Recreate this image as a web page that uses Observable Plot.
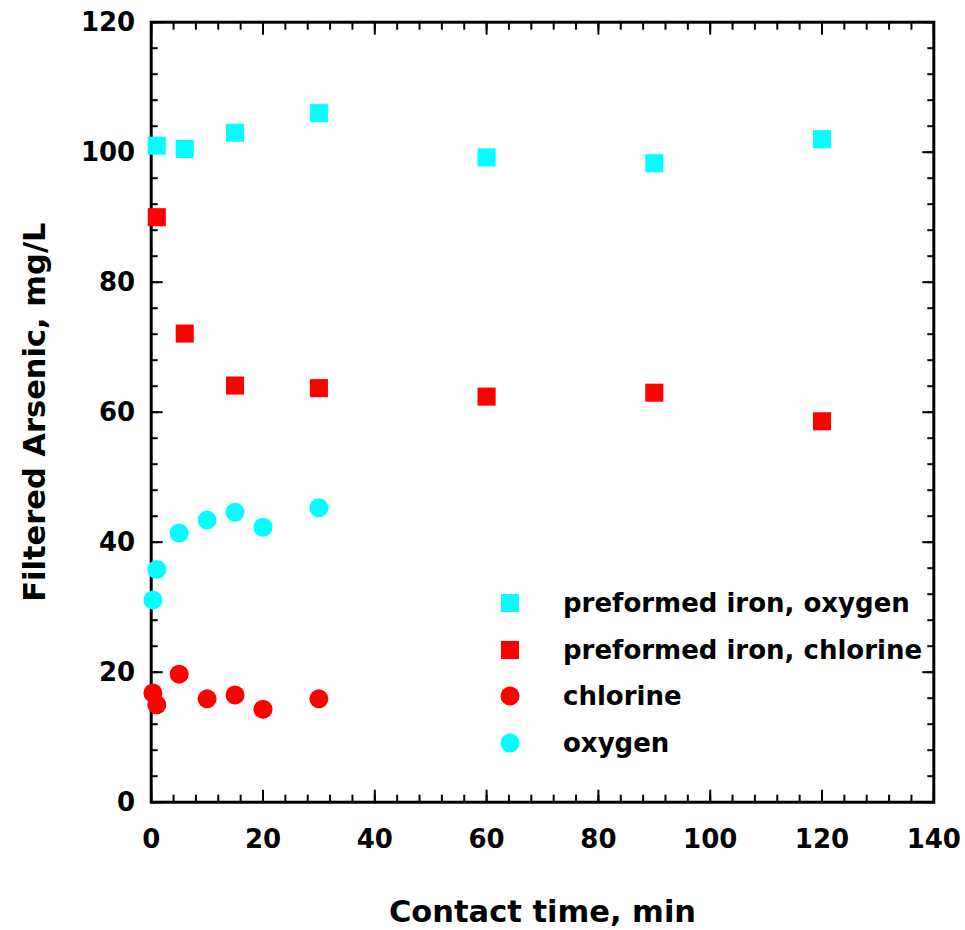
<!DOCTYPE html>
<html>
<head>
<meta charset="utf-8">
<script src="https://cdn.jsdelivr.net/npm/d3@7"></script>
<script src="https://cdn.jsdelivr.net/npm/@observablehq/plot@0.6"></script>
<style>
  html, body { margin: 0; padding: 0; background: #fff; }
  #wrap { position: relative; width: 965px; height: 930px; font-family: "Comic Sans MS", "DejaVu Sans", sans-serif; font-weight: bold; }
  #legend { position: absolute; left: 496px; top: 580px; font-size: 26px; color: #000; white-space: nowrap; }
  #legend .row { height: 46.5px; display: flex; align-items: center; }
  #legend svg { width: 28px; height: 28px; margin-right: 39px; }
</style>
</head>
<body>
<div id="wrap"></div>
<script>
// Data (contact time in minutes, filtered arsenic in mg/L)
const preOxygenTime = [1, 6, 15, 30, 60, 90, 120];
const preOxygenAs   = [101, 100.5, 103, 106, 99.2, 98.3, 102];

const preChlorineTime = [1, 6, 15, 30, 60, 90, 120];
const preChlorineAs   = [90, 72.1, 64.1, 63.7, 62.4, 63.0, 58.6];

const chlorineTime = [0.3, 1, 5, 10, 15, 20, 30];
const chlorineAs   = [16.8, 15.0, 19.7, 15.9, 16.5, 14.3, 15.9];

const oxygenTime = [0.3, 1, 5, 10, 15, 20, 30];
const oxygenAs   = [31.1, 35.8, 41.4, 43.4, 44.6, 42.3, 45.3];

const seriesNames = ["preformed iron, oxygen", "preformed iron, chlorine", "chlorine", "oxygen"];
const seriesColors = ["#00FFFF", "#FF0000", "#FF0000", "#00FFFF"];
const seriesSymbols = ["square", "square", "circle", "circle"];

const xMajor = d3.range(0, 141, 20);
const xMinor = d3.range(0, 141, 4);
const yMajor = d3.range(0, 121, 20);
const yMinor = d3.range(0, 121, 4);

const xTitle = "Contact time, min";
const yTitle = "Filtered Arsenic, mg/L";

const toRows = (t, v) => t.map((x, i) => ({x, y: v[i]}));

const tickStyle = {stroke: "#000", strokeWidth: 2, text: null, label: null};

const chart = Plot.plot({
  width: 965,
  height: 930,
  marginLeft: 150.7,
  marginRight: 31.7,
  marginTop: 21.7,
  marginBottom: 128.3,
  style: {fontFamily: '"Comic Sans MS", "DejaVu Sans", sans-serif', fontWeight: "bold", fontSize: "26px", color: "#000", background: "#fff"},
  x: {domain: [0, 140], label: null},
  y: {domain: [0, 120], label: null},
  marks: [
    // minor & major inward ticks on all four sides
    Plot.axisX(xMinor, {anchor: "bottom", tickSize: -7, ...tickStyle}),
    Plot.axisX(xMajor, {anchor: "bottom", tickSize: -12, ...tickStyle}),
    Plot.axisX(xMinor, {anchor: "top", tickSize: -7, ...tickStyle}),
    Plot.axisX(xMajor, {anchor: "top", tickSize: -12, ...tickStyle}),
    Plot.axisY(yMinor, {anchor: "left", tickSize: -7, ...tickStyle}),
    Plot.axisY(yMajor, {anchor: "left", tickSize: -12, ...tickStyle}),
    Plot.axisY(yMinor, {anchor: "right", tickSize: -7, ...tickStyle}),
    Plot.axisY(yMajor, {anchor: "right", tickSize: -12, ...tickStyle}),
    // tick labels
    Plot.axisX(xMajor, {anchor: "bottom", tickSize: 0, tickPadding: 27, fontSize: 26, label: null}),
    Plot.axisY(yMajor, {anchor: "left", tickSize: 0, tickPadding: 16, fontSize: 26, label: null}),
    // frame
    Plot.frame({stroke: "#000", strokeWidth: 3}),
    // data
    Plot.dot(toRows(preOxygenTime, preOxygenAs), {x: "x", y: "y", symbol: "square", r: 10.2, fill: seriesColors[0], stroke: "none"}),
    Plot.dot(toRows(preChlorineTime, preChlorineAs), {x: "x", y: "y", symbol: "square", r: 10.2, fill: seriesColors[1], stroke: "none"}),
    Plot.dot(toRows(chlorineTime, chlorineAs), {x: "x", y: "y", symbol: "circle", r: 9.5, fill: seriesColors[2], stroke: "none"}),
    Plot.dot(toRows(oxygenTime, oxygenAs), {x: "x", y: "y", symbol: "circle", r: 9.5, fill: seriesColors[3], stroke: "none"}),
    // axis titles
    Plot.text([xTitle], {frameAnchor: "bottom", dy: 110, textAnchor: "middle", lineAnchor: "middle", fontSize: 30.5, fontWeight: "bold", fill: "#000"}),
    Plot.text([yTitle], {frameAnchor: "left", dx: -116, rotate: -90, textAnchor: "middle", lineAnchor: "middle", fontSize: 30.5, fontWeight: "bold", fill: "#000"})
  ]
});

const wrap = document.getElementById("wrap");
wrap.appendChild(chart);

// legend
const legend = document.createElement("div");
legend.id = "legend";
seriesNames.forEach((name, i) => {
  const row = document.createElement("div");
  row.className = "row";
  const sym = seriesSymbols[i] === "square"
    ? `<rect x="5" y="5" width="18" height="18" fill="${seriesColors[i]}"/>`
    : `<circle cx="14" cy="14" r="9.5" fill="${seriesColors[i]}"/>`;
  row.innerHTML = `<svg viewBox="0 0 28 28">${sym}</svg><span>${name}</span>`;
  legend.appendChild(row);
});
wrap.appendChild(legend);
</script>
</body>
</html>
